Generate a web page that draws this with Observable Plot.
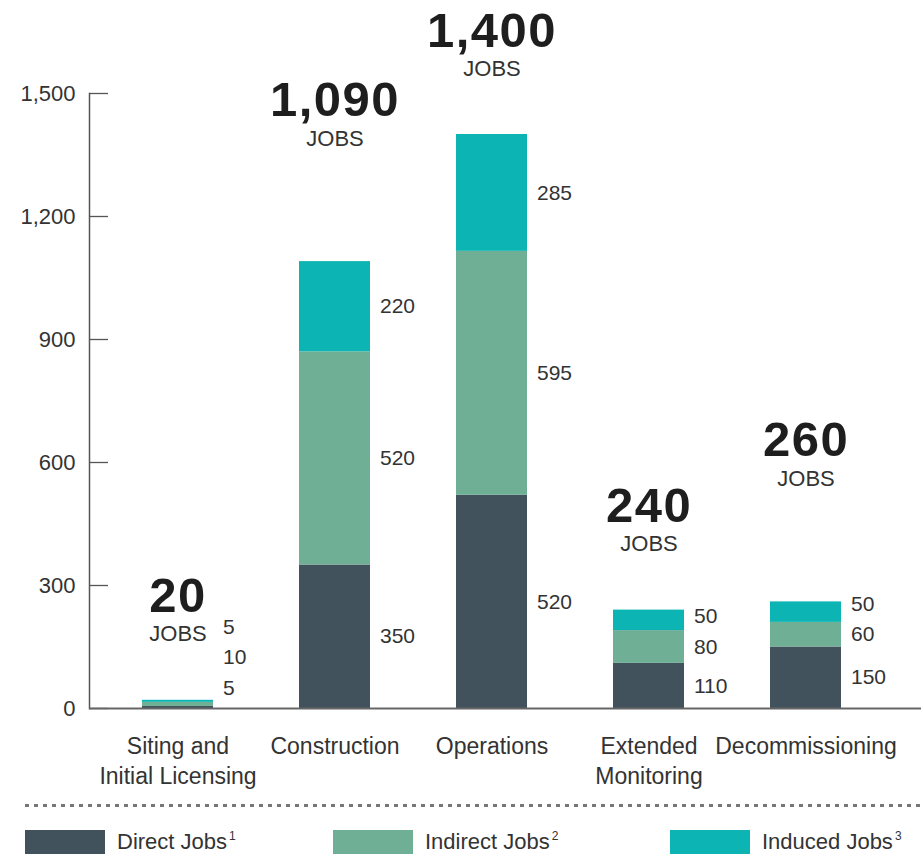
<!DOCTYPE html>
<html>
<head>
<meta charset="utf-8">
<script src="https://cdn.jsdelivr.net/npm/d3@7"></script>
<script src="https://cdn.jsdelivr.net/npm/@observablehq/plot@0.6"></script>
<style>
  html, body { margin: 0; padding: 0; background: #fff; font-family: "Liberation Sans", Arial, sans-serif; }
  #wrap { width: 921px; height: 855px; overflow: hidden; }
  #chart { height: 790px; }
  #chart svg { display: block; }
  .big text { letter-spacing: 1.5px; }
  .dots { margin: 14px 0 0 25px; width: 896px; height: 3px;
    background-image: repeating-linear-gradient(to right, #777 0 4px, transparent 4px 9px); }
  .legend { position: relative; margin-top: 23px; width: 921px; height: 25px; }
  .item { position: absolute; top: 0; display: flex; align-items: center; white-space: nowrap; }
  .sw { width: 80px; height: 24px; margin-right: 12px; }
  .lab { font-size: 22px; color: #333; line-height: 24px; }
  .lab sup { font-size: 12px; vertical-align: 9px; margin-left: 2px; line-height: 0; }
</style>
</head>
<body>
<div id="wrap">
  <div id="chart"></div>
  <div class="dots"></div>
  <div class="legend" id="legend"></div>
</div>
<script>
const categories = ["Siting and\nInitial Licensing", "Construction", "Operations", "Extended\nMonitoring", "Decommissioning"];
const series = ["Direct Jobs", "Indirect Jobs", "Induced Jobs"];
const footnotes = ["1", "2", "3"];
const direct = [5, 350, 520, 110, 150];
const indirect = [10, 520, 595, 80, 60];
const induced = [5, 220, 285, 50, 50];
const totals = [20, 1090, 1400, 240, 260];
const yTicks = [0, 300, 600, 900, 1200, 1500];
const colors = ["#41525c", "#6faf95", "#0db4b4"];

// categories whose total label sits higher above the bar
const raised = new Set(["Construction", "Decommissioning"]);

const seriesValues = [direct, indirect, induced];
const rows = [];
categories.forEach((c, i) => {
  let base = 0, prev = -Infinity;
  seriesValues.forEach((arr, j) => {
    const v = arr[i];
    const mid = base + v / 2;
    const labelY = Math.max(mid, 50, prev + 74);
    prev = labelY;
    rows.push({category: c, series: series[j], value: v, y1: base, y2: base + v, labelY});
    base += v;
  });
});
const totalRows = categories.map((c, i) => ({category: c, total: totals[i], i}));
const fmt = d3.format(",");
const font = "Liberation Sans, Arial, sans-serif";
const txt = "#333";

const chart = Plot.plot({
  width: 921,
  height: 790,
  marginLeft: 89,
  marginRight: 0,
  marginTop: 93,
  marginBottom: 82,
  style: {fontFamily: font, color: txt, background: "#fff"},
  x: {type: "band", domain: categories, paddingInner: 0.55, paddingOuter: 0.4246, align: 0.395, label: null},
  y: {domain: [0, 1500], label: null},
  color: {domain: series, range: colors},
  marks: [
    Plot.barY(rows, {x: "category", y1: "y1", y2: "y2", fill: "series"}),
    Plot.text(rows, {x: "category", y: "labelY", text: d => String(d.value), dx: 45, textAnchor: "start", fontSize: 21, fill: txt}),
    Plot.text(totalRows, {filter: d => !raised.has(d.category), x: "category", y: "total", text: d => fmt(d.total), dy: -88, lineAnchor: "bottom", fontSize: 49, fontWeight: "bold", fill: "#1e1e1e", className: "big"}),
    Plot.text(totalRows, {filter: d => !raised.has(d.category), x: "category", y: "total", text: () => "JOBS", dy: -59, lineAnchor: "bottom", fontSize: 22, fill: txt}),
    Plot.text(totalRows, {filter: d => raised.has(d.category), x: "category", y: "total", text: d => fmt(d.total), dy: -146, lineAnchor: "bottom", fontSize: 49, fontWeight: "bold", fill: "#1e1e1e", className: "big"}),
    Plot.text(totalRows, {filter: d => raised.has(d.category), x: "category", y: "total", text: () => "JOBS", dy: -116, lineAnchor: "bottom", fontSize: 22, fill: txt}),
    Plot.axisY({ticks: yTicks, tickSize: 0, tickPadding: 14, tickFormat: fmt, fontSize: 22, fill: txt, label: null}),
    Plot.axisY({ticks: yTicks, tickSize: -19, tickFormat: () => "", stroke: "#555", strokeWidth: 1.3, label: null}),
    Plot.frame({anchor: "left", stroke: "#555", strokeWidth: 1.5}),
    Plot.axisX({tickSize: 0, tickPadding: 25, fontSize: 23, lineHeight: 1.28, fill: txt, label: null}),
    Plot.ruleY([0], {stroke: "#666", strokeWidth: 2})
  ]
});
document.getElementById("chart").appendChild(chart);

const legend = document.getElementById("legend");
const lefts = [25, 333, 670];
series.forEach((s, j) => {
  const item = document.createElement("div");
  item.className = "item";
  item.style.left = lefts[j] + "px";
  item.innerHTML = `<div class="sw" style="background:${colors[j]}"></div><span class="lab">${s}<sup>${footnotes[j]}</sup></span>`;
  legend.appendChild(item);
});
</script>
</body>
</html>
